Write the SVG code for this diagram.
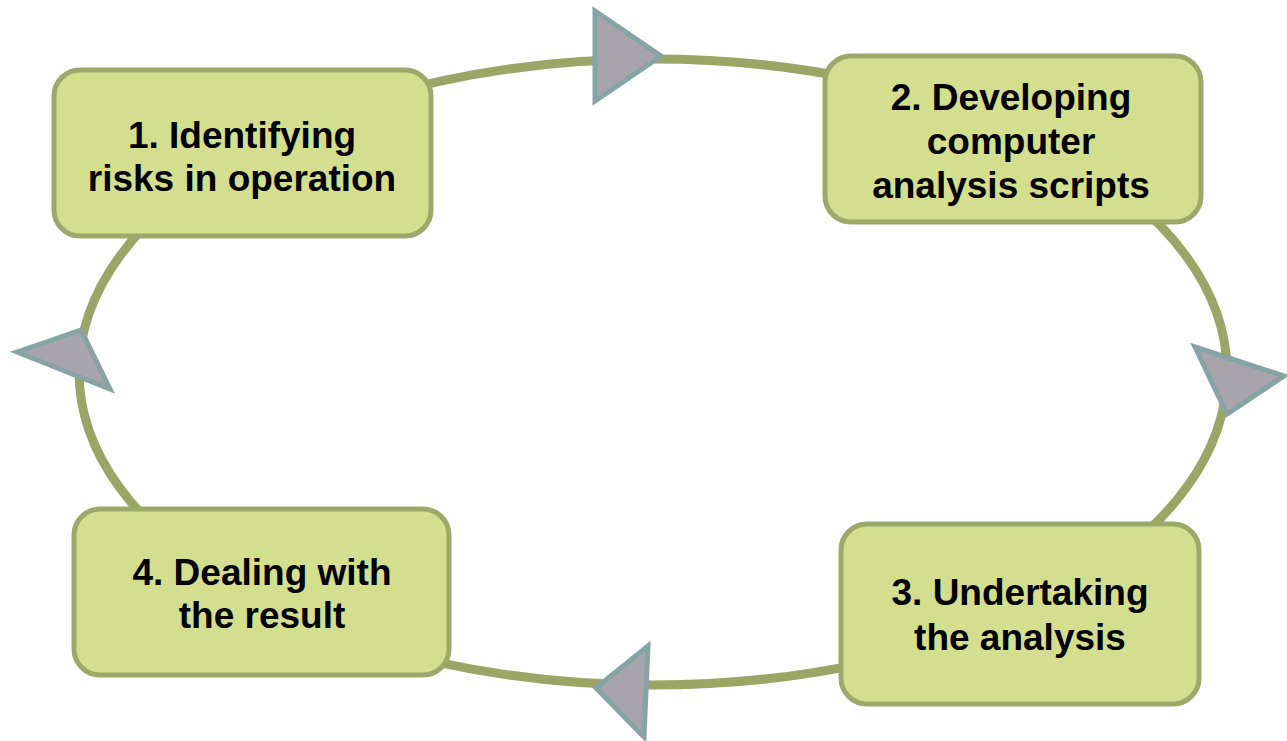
<svg xmlns="http://www.w3.org/2000/svg" width="1287" height="741" viewBox="0 0 1287 741">
<style>
.box{fill:#d3df8f;stroke:#9ca96b;stroke-width:5}
.lbl{font-family:"Liberation Sans",Arial,sans-serif;font-weight:bold;font-size:37px;fill:#000;text-anchor:middle}
.ring{fill:none;stroke:#9aa566;stroke-width:9}
.head{fill:#a7a5ab;stroke:#86a3a5;stroke-width:5;stroke-linejoin:miter}
</style>
<rect width="1287" height="741" fill="#fff"/>
<g id="connectors">
<ellipse class="ring" cx="653" cy="372" rx="574" ry="313"/>
<polygon class="head" points="595,11 595,101 661,56"/>
<polygon class="head" points="17,352 81,330 110,389"/>
<polygon class="head" points="1195,347 1284,376 1227,414"/>
<polygon class="head" points="596,688 648,646 644,737"/>
</g>
<g id="node1">
<rect class="box" x="54" y="70" width="377" height="166" rx="26"/>
<text class="lbl" x="242" y="148">1. Identifying</text>
<text class="lbl" x="242" y="191">risks in operation</text>
</g>
<g id="node2">
<rect class="box" x="825" y="56" width="376" height="166" rx="26"/>
<text class="lbl" x="1011" y="110">2. Developing</text>
<text class="lbl" x="1011" y="154">computer</text>
<text class="lbl" x="1011" y="198">analysis scripts</text>
</g>
<g id="node3">
<rect class="box" x="841" y="524" width="358" height="180" rx="26"/>
<text class="lbl" x="1020" y="605">3. Undertaking</text>
<text class="lbl" x="1020" y="650">the analysis</text>
</g>
<g id="node4">
<rect class="box" x="74" y="509" width="375" height="166" rx="26"/>
<text class="lbl" x="262" y="585">4. Dealing with</text>
<text class="lbl" x="262" y="628">the result</text>
</g>
</svg>
